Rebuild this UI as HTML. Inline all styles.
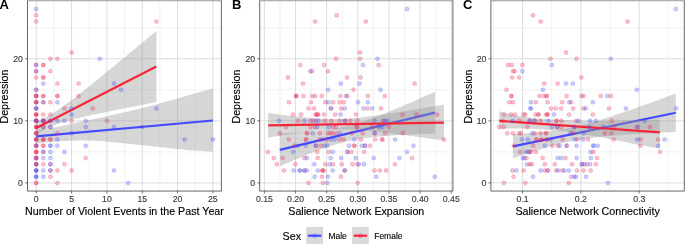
<!DOCTYPE html>
<html><head><meta charset="utf-8"><title>Figure</title>
<style>html,body{margin:0;padding:0;background:#fff;}svg{display:block;font-family:"Liberation Sans",sans-serif;}.t{font-size:8.7px;fill:#3c3c3c;stroke:#3c3c3c;stroke-width:0.15px;}.ax{font-size:10.7px;fill:#000;stroke:#000;stroke-width:0.15px;}.tag{font-size:13.0px;font-weight:bold;fill:#000;}circle.r{fill:#E8234C;stroke:#E8234C;fill-opacity:0.27;stroke-opacity:0.27;stroke-width:0.80}circle.b{fill:#3F48FA;stroke:#3F48FA;fill-opacity:0.27;stroke-opacity:0.27;stroke-width:0.80}.lg{font-size:8.5px;fill:#000;stroke:#000;stroke-width:0.12px;}</style></head><body>
<svg style="will-change:transform" width="685" height="244" viewBox="0 0 685 244">
<rect x="0" y="0" width="685" height="244" fill="#fff"/>
<clipPath id="clipA"><rect x="27.50" y="1.00" width="193.90" height="190.05"/></clipPath>
<g clip-path="url(#clipA)">
<path d="M53.91,1.00V191.05M89.24,1.00V191.05M124.56,1.00V191.05M159.89,1.00V191.05M195.21,1.00V191.05M27.50,151.87H221.40M27.50,89.80H221.40M27.50,27.73H221.40" stroke="#e4e4e4" stroke-width="0.5" fill="none"/>
<path d="M36.25,1.00V191.05M71.58,1.00V191.05M106.90,1.00V191.05M142.23,1.00V191.05M177.55,1.00V191.05M212.88,1.00V191.05M27.50,182.90H221.40M27.50,120.83H221.40M27.50,58.76H221.40" stroke="#d9d9d9" stroke-width="0.9" fill="none"/>
<path d="M36.2,129.8 L39.9,129.5 L43.6,129.0 L47.3,128.5 L51.0,128.0 L54.6,127.4 L58.3,126.8 L62.0,126.0 L65.7,125.2 L69.4,124.3 L73.0,123.4 L76.7,122.5 L80.4,121.7 L84.1,120.9 L87.8,120.2 L91.4,119.4 L95.1,118.7 L98.8,117.9 L102.5,117.2 L106.2,116.4 L109.8,115.6 L113.5,114.8 L117.2,114.0 L120.9,113.1 L124.6,112.3 L128.2,111.4 L131.9,110.5 L135.6,109.6 L139.3,108.7 L143.0,107.8 L146.6,106.9 L150.3,105.9 L154.0,105.0 L157.7,104.0 L161.4,103.0 L165.0,102.0 L168.7,101.0 L172.4,99.9 L176.1,98.9 L179.8,97.8 L183.4,96.7 L187.1,95.7 L190.8,94.7 L194.5,93.6 L198.2,92.6 L201.8,91.5 L205.5,90.5 L209.2,89.4 L212.9,88.4 L212.9,151.6 L209.2,151.4 L205.5,151.2 L201.8,150.9 L198.2,150.7 L194.5,150.4 L190.8,150.2 L187.1,149.9 L183.4,149.6 L179.8,149.2 L176.1,148.9 L172.4,148.5 L168.7,148.1 L165.0,147.6 L161.4,147.2 L157.7,146.8 L154.0,146.4 L150.3,146.0 L146.6,145.6 L143.0,145.2 L139.3,144.9 L135.6,144.5 L131.9,144.1 L128.2,143.7 L124.6,143.3 L120.9,143.0 L117.2,142.6 L113.5,142.3 L109.8,142.0 L106.2,141.6 L102.5,141.3 L98.8,141.0 L95.1,140.7 L91.4,140.5 L87.8,140.4 L84.1,140.4 L80.4,140.5 L76.7,140.5 L73.0,140.7 L69.4,140.8 L65.7,141.0 L62.0,141.1 L58.3,141.3 L54.6,141.5 L51.0,141.8 L47.3,142.1 L43.6,142.5 L39.9,143.0 L36.2,143.5Z" fill="#999999" fill-opacity="0.4"/>
<line x1="36.25" y1="136.35" x2="212.88" y2="120.52" stroke="#4549FF" stroke-width="2.2"/>
<path d="M36.2,121.2 L38.8,120.3 L41.3,119.3 L43.8,118.2 L46.3,117.0 L48.8,115.7 L51.3,114.2 L53.8,112.7 L56.3,111.1 L58.8,109.4 L61.3,107.7 L63.8,105.9 L66.3,104.1 L68.8,102.2 L71.3,100.3 L73.8,98.4 L76.3,96.4 L78.8,94.5 L81.3,92.5 L83.8,90.5 L86.3,88.5 L88.8,86.5 L91.3,84.5 L93.8,82.5 L96.3,80.4 L98.8,78.4 L101.3,76.4 L103.8,74.3 L106.3,72.3 L108.8,70.2 L111.3,68.2 L113.8,66.2 L116.3,64.1 L118.8,62.1 L121.3,60.0 L123.8,57.9 L126.3,55.9 L128.8,53.8 L131.3,51.8 L133.8,49.7 L136.3,47.7 L138.8,45.6 L141.3,43.5 L143.8,41.5 L146.3,39.4 L148.8,37.3 L151.4,35.3 L153.9,33.2 L156.4,31.1 L156.4,102.0 L153.9,102.5 L151.4,103.0 L148.8,103.4 L146.3,103.9 L143.8,104.4 L141.3,104.9 L138.8,105.4 L136.3,105.9 L133.8,106.4 L131.3,106.9 L128.8,107.4 L126.3,107.9 L123.8,108.4 L121.3,108.9 L118.8,109.4 L116.3,109.9 L113.8,110.5 L111.3,111.0 L108.8,111.5 L106.3,112.0 L103.8,112.5 L101.3,113.0 L98.8,113.6 L96.3,114.1 L93.8,114.6 L91.3,115.2 L88.8,115.7 L86.3,116.3 L83.8,116.8 L81.3,117.4 L78.8,118.0 L76.3,118.6 L73.8,119.2 L71.3,119.8 L68.8,120.5 L66.3,121.2 L63.8,121.9 L61.3,122.6 L58.8,123.5 L56.3,124.3 L53.8,125.3 L51.3,126.3 L48.8,127.5 L46.3,128.7 L43.8,130.1 L41.3,131.6 L38.8,133.1 L36.2,134.8Z" fill="#999999" fill-opacity="0.4"/>
<line x1="36.25" y1="127.97" x2="156.36" y2="66.56" stroke="#F6263A" stroke-width="2.2"/>
<circle class="b" cx="36.2" cy="9.1" r="2.00"/>
<circle class="r" cx="36.2" cy="15.3" r="2.00"/>
<circle class="r" cx="36.2" cy="21.5" r="2.00"/>
<circle class="r" cx="156.4" cy="21.5" r="2.00"/>
<circle class="r" cx="71.6" cy="52.6" r="2.00"/>
<circle class="r" cx="50.4" cy="58.8" r="2.00"/>
<circle class="r" cx="57.4" cy="58.8" r="2.00"/>
<circle class="b" cx="99.8" cy="58.8" r="2.00"/>
<circle class="r" cx="36.2" cy="65.0" r="2.00"/>
<circle class="b" cx="36.2" cy="65.0" r="2.00"/>
<circle class="r" cx="43.3" cy="65.0" r="2.00" style="fill-opacity:0.47;stroke-opacity:0.47"/>
<circle class="b" cx="36.2" cy="71.2" r="2.00"/>
<circle class="r" cx="36.2" cy="71.2" r="2.00"/>
<circle class="r" cx="50.4" cy="71.2" r="2.00"/>
<circle class="r" cx="36.2" cy="77.4" r="2.00"/>
<circle class="r" cx="43.3" cy="77.4" r="2.00" style="fill-opacity:0.47;stroke-opacity:0.47"/>
<circle class="b" cx="43.3" cy="83.6" r="2.00"/>
<circle class="r" cx="57.4" cy="83.6" r="2.00"/>
<circle class="r" cx="78.6" cy="83.6" r="2.00"/>
<circle class="b" cx="114.0" cy="83.6" r="2.00"/>
<circle class="r" cx="36.2" cy="89.8" r="2.00"/>
<circle class="b" cx="36.2" cy="89.8" r="2.00"/>
<circle class="b" cx="121.0" cy="89.8" r="2.00"/>
<circle class="b" cx="36.2" cy="96.0" r="2.00"/>
<circle class="r" cx="36.2" cy="96.0" r="2.00" style="fill-opacity:0.61;stroke-opacity:0.61"/>
<circle class="r" cx="43.3" cy="96.0" r="2.00" style="fill-opacity:0.47;stroke-opacity:0.47"/>
<circle class="r" cx="57.4" cy="96.0" r="2.00" style="fill-opacity:0.47;stroke-opacity:0.47"/>
<circle class="r" cx="78.6" cy="96.0" r="2.00"/>
<circle class="b" cx="36.2" cy="102.2" r="2.00"/>
<circle class="r" cx="36.2" cy="102.2" r="2.00" style="fill-opacity:0.61;stroke-opacity:0.61"/>
<circle class="r" cx="43.3" cy="102.2" r="2.00"/>
<circle class="b" cx="43.3" cy="102.2" r="2.00"/>
<circle class="r" cx="50.4" cy="102.2" r="2.00"/>
<circle class="b" cx="57.4" cy="102.2" r="2.00"/>
<circle class="r" cx="36.2" cy="108.4" r="2.00"/>
<circle class="b" cx="36.2" cy="108.4" r="2.00" style="fill-opacity:0.47;stroke-opacity:0.47"/>
<circle class="r" cx="64.5" cy="108.4" r="2.00"/>
<circle class="b" cx="71.6" cy="108.4" r="2.00"/>
<circle class="r" cx="92.8" cy="108.4" r="2.00"/>
<circle class="b" cx="156.4" cy="108.4" r="2.00"/>
<circle class="r" cx="36.2" cy="114.6" r="2.00" style="fill-opacity:0.72;stroke-opacity:0.72"/>
<circle class="r" cx="43.3" cy="114.6" r="2.00"/>
<circle class="r" cx="50.4" cy="114.6" r="2.00"/>
<circle class="b" cx="71.6" cy="114.6" r="2.00"/>
<circle class="b" cx="36.2" cy="120.8" r="2.00" style="fill-opacity:0.47;stroke-opacity:0.47"/>
<circle class="r" cx="36.2" cy="120.8" r="2.00"/>
<circle class="b" cx="36.2" cy="120.8" r="2.00"/>
<circle class="r" cx="36.2" cy="120.8" r="2.00"/>
<circle class="r" cx="43.3" cy="120.8" r="2.00"/>
<circle class="b" cx="43.3" cy="120.8" r="2.00" style="fill-opacity:0.47;stroke-opacity:0.47"/>
<circle class="r" cx="43.3" cy="120.8" r="2.00"/>
<circle class="r" cx="50.4" cy="120.8" r="2.00"/>
<circle class="b" cx="50.4" cy="120.8" r="2.00"/>
<circle class="b" cx="57.4" cy="120.8" r="2.00"/>
<circle class="b" cx="64.5" cy="120.8" r="2.00"/>
<circle class="r" cx="71.6" cy="120.8" r="2.00"/>
<circle class="b" cx="85.7" cy="120.8" r="2.00"/>
<circle class="r" cx="106.9" cy="120.8" r="2.00"/>
<circle class="r" cx="36.2" cy="127.0" r="2.00" style="fill-opacity:0.72;stroke-opacity:0.72"/>
<circle class="b" cx="43.3" cy="127.0" r="2.00"/>
<circle class="r" cx="43.3" cy="127.0" r="2.00"/>
<circle class="r" cx="50.4" cy="127.0" r="2.00"/>
<circle class="b" cx="50.4" cy="127.0" r="2.00"/>
<circle class="b" cx="85.7" cy="127.0" r="2.00"/>
<circle class="b" cx="114.0" cy="127.0" r="2.00"/>
<circle class="b" cx="142.2" cy="127.0" r="2.00"/>
<circle class="b" cx="36.2" cy="133.2" r="2.00"/>
<circle class="r" cx="36.2" cy="133.2" r="2.00" style="fill-opacity:0.61;stroke-opacity:0.61"/>
<circle class="r" cx="57.4" cy="133.2" r="2.00"/>
<circle class="b" cx="71.6" cy="133.2" r="2.00"/>
<circle class="b" cx="36.2" cy="139.5" r="2.00"/>
<circle class="r" cx="36.2" cy="139.5" r="2.00" style="fill-opacity:0.61;stroke-opacity:0.61"/>
<circle class="r" cx="43.3" cy="139.5" r="2.00" style="fill-opacity:0.61;stroke-opacity:0.61"/>
<circle class="r" cx="50.4" cy="139.5" r="2.00" style="fill-opacity:0.47;stroke-opacity:0.47"/>
<circle class="b" cx="57.4" cy="139.5" r="2.00"/>
<circle class="b" cx="184.6" cy="139.5" r="2.00"/>
<circle class="b" cx="212.9" cy="139.5" r="2.00"/>
<circle class="b" cx="36.2" cy="145.7" r="2.00" style="fill-opacity:0.47;stroke-opacity:0.47"/>
<circle class="r" cx="36.2" cy="145.7" r="2.00" style="fill-opacity:0.47;stroke-opacity:0.47"/>
<circle class="r" cx="43.3" cy="145.7" r="2.00" style="fill-opacity:0.47;stroke-opacity:0.47"/>
<circle class="b" cx="50.4" cy="145.7" r="2.00" style="fill-opacity:0.47;stroke-opacity:0.47"/>
<circle class="b" cx="57.4" cy="145.7" r="2.00"/>
<circle class="b" cx="85.7" cy="145.7" r="2.00"/>
<circle class="r" cx="36.2" cy="151.9" r="2.00" style="fill-opacity:0.72;stroke-opacity:0.72"/>
<circle class="r" cx="43.3" cy="151.9" r="2.00"/>
<circle class="b" cx="43.3" cy="151.9" r="2.00"/>
<circle class="b" cx="50.4" cy="151.9" r="2.00"/>
<circle class="b" cx="64.5" cy="151.9" r="2.00"/>
<circle class="b" cx="36.2" cy="158.1" r="2.00" style="fill-opacity:0.47;stroke-opacity:0.47"/>
<circle class="r" cx="36.2" cy="158.1" r="2.00" style="fill-opacity:0.47;stroke-opacity:0.47"/>
<circle class="b" cx="43.3" cy="158.1" r="2.00"/>
<circle class="b" cx="50.4" cy="158.1" r="2.00"/>
<circle class="r" cx="85.7" cy="158.1" r="2.00"/>
<circle class="b" cx="36.2" cy="164.3" r="2.00" style="fill-opacity:0.47;stroke-opacity:0.47"/>
<circle class="r" cx="36.2" cy="164.3" r="2.00" style="fill-opacity:0.47;stroke-opacity:0.47"/>
<circle class="r" cx="43.3" cy="164.3" r="2.00"/>
<circle class="r" cx="50.4" cy="164.3" r="2.00"/>
<circle class="b" cx="50.4" cy="164.3" r="2.00"/>
<circle class="r" cx="64.5" cy="164.3" r="2.00"/>
<circle class="r" cx="36.2" cy="170.5" r="2.00"/>
<circle class="b" cx="36.2" cy="170.5" r="2.00" style="fill-opacity:0.61;stroke-opacity:0.61"/>
<circle class="b" cx="43.3" cy="170.5" r="2.00"/>
<circle class="r" cx="50.4" cy="170.5" r="2.00"/>
<circle class="b" cx="50.4" cy="170.5" r="2.00"/>
<circle class="r" cx="57.4" cy="170.5" r="2.00"/>
<circle class="r" cx="71.6" cy="170.5" r="2.00"/>
<circle class="b" cx="114.0" cy="170.5" r="2.00"/>
<circle class="b" cx="36.2" cy="176.7" r="2.00" style="fill-opacity:0.61;stroke-opacity:0.61"/>
<circle class="b" cx="43.3" cy="176.7" r="2.00"/>
<circle class="r" cx="50.4" cy="176.7" r="2.00"/>
<circle class="r" cx="36.2" cy="182.9" r="2.00" style="fill-opacity:0.47;stroke-opacity:0.47"/>
<circle class="r" cx="57.4" cy="182.9" r="2.00"/>
<circle class="b" cx="128.1" cy="182.9" r="2.00"/>
</g>
<path d="M27.50,0V191.05H221.40V0" fill="none" stroke="#333333" stroke-width="0.75"/>
<rect x="27.10" y="0" width="194.70" height="1" fill="#b0b0b0"/><rect x="27.10" y="1" width="194.70" height="1" fill="#000" fill-opacity="0.09"/>
<path d="M36.25,191.05v2.4M71.58,191.05v2.4M106.90,191.05v2.4M142.23,191.05v2.4M177.55,191.05v2.4M212.88,191.05v2.4M27.50,182.90h-2.4M27.50,120.83h-2.4M27.50,58.76h-2.4" stroke="#333333" stroke-width="0.7" fill="none"/>
<text class="t" x="36.25" y="202.3" text-anchor="middle">0</text>
<text class="t" x="71.58" y="202.3" text-anchor="middle">5</text>
<text class="t" x="106.90" y="202.3" text-anchor="middle">10</text>
<text class="t" x="142.23" y="202.3" text-anchor="middle">15</text>
<text class="t" x="177.55" y="202.3" text-anchor="middle">20</text>
<text class="t" x="212.88" y="202.3" text-anchor="middle">25</text>
<text class="t" x="22.90" y="185.80" text-anchor="end">0</text>
<text class="t" x="22.90" y="123.73" text-anchor="end">10</text>
<text class="t" x="22.90" y="61.66" text-anchor="end">20</text>
<text class="ax" x="124.45" y="214.6" text-anchor="middle">Number of Violent Events in the Past Year</text>
<text class="ax" transform="translate(8.10,96.53) rotate(-90)" text-anchor="middle">Depression</text>
<text class="tag" x="-0.40" y="9.35">A</text>
<clipPath id="clipB"><rect x="259.70" y="1.00" width="193.20" height="190.05"/></clipPath>
<g clip-path="url(#clipB)">
<path d="M279.97,1.00V191.05M311.12,1.00V191.05M342.27,1.00V191.05M373.42,1.00V191.05M404.57,1.00V191.05M435.73,1.00V191.05M259.70,151.87H452.90M259.70,89.80H452.90M259.70,27.73H452.90" stroke="#e4e4e4" stroke-width="0.5" fill="none"/>
<path d="M264.40,1.00V191.05M295.55,1.00V191.05M326.70,1.00V191.05M357.85,1.00V191.05M389.00,1.00V191.05M420.15,1.00V191.05M451.30,1.00V191.05M259.70,182.90H452.90M259.70,120.83H452.90M259.70,58.76H452.90" stroke="#d9d9d9" stroke-width="0.9" fill="none"/>
<path d="M279.8,133.6 L283.0,133.5 L286.3,133.3 L289.5,133.1 L292.7,132.9 L296.0,132.7 L299.2,132.5 L302.4,132.3 L305.7,132.1 L308.9,131.8 L312.1,131.6 L315.4,131.3 L318.6,130.9 L321.8,130.6 L325.1,130.2 L328.3,129.8 L331.5,129.3 L334.8,128.8 L338.0,128.2 L341.2,127.5 L344.5,126.8 L347.7,126.0 L350.9,125.2 L354.1,124.3 L357.4,123.3 L360.6,122.3 L363.8,121.2 L367.1,120.1 L370.3,118.9 L373.5,117.7 L376.8,116.5 L380.0,115.3 L383.2,114.0 L386.5,112.7 L389.7,111.3 L392.9,110.0 L396.2,108.7 L399.4,107.3 L402.6,105.9 L405.9,104.5 L409.1,103.2 L412.3,101.8 L415.6,100.4 L418.8,98.9 L422.0,97.5 L425.3,96.1 L428.5,94.7 L431.7,93.3 L435.0,91.8 L435.0,133.5 L431.7,133.7 L428.5,133.8 L425.3,133.9 L422.0,134.0 L418.8,134.2 L415.6,134.3 L412.3,134.5 L409.1,134.6 L405.9,134.8 L402.6,135.0 L399.4,135.1 L396.2,135.3 L392.9,135.5 L389.7,135.7 L386.5,136.0 L383.2,136.2 L380.0,136.5 L376.8,136.8 L373.5,137.1 L370.3,137.5 L367.1,137.9 L363.8,138.3 L360.6,138.8 L357.4,139.3 L354.1,139.9 L350.9,140.5 L347.7,141.2 L344.5,142.0 L341.2,142.9 L338.0,143.8 L334.8,144.7 L331.5,145.8 L328.3,146.8 L325.1,147.9 L321.8,149.1 L318.6,150.3 L315.4,151.5 L312.1,152.8 L308.9,154.1 L305.7,155.4 L302.4,156.7 L299.2,158.0 L296.0,159.4 L292.7,160.7 L289.5,162.1 L286.3,163.5 L283.0,164.9 L279.8,166.3Z" fill="#999999" fill-opacity="0.4"/>
<line x1="279.79" y1="149.94" x2="434.98" y2="112.68" stroke="#4549FF" stroke-width="2.2"/>
<path d="M268.2,113.1 L271.9,113.5 L275.5,114.0 L279.2,114.5 L282.8,114.9 L286.5,115.4 L290.2,115.8 L293.8,116.2 L297.5,116.6 L301.1,117.0 L304.8,117.4 L308.5,117.7 L312.1,118.1 L315.8,118.4 L319.4,118.6 L323.1,118.8 L326.8,119.0 L330.4,119.1 L334.1,119.1 L337.7,119.1 L341.4,119.0 L345.1,118.8 L348.7,118.6 L352.4,118.3 L356.0,118.0 L359.7,117.6 L363.4,117.2 L367.0,116.7 L370.7,116.2 L374.3,115.8 L378.0,115.2 L381.7,114.7 L385.3,114.2 L389.0,113.6 L392.6,113.0 L396.3,112.5 L400.0,111.9 L403.6,111.3 L407.3,110.7 L410.9,110.1 L414.6,109.5 L418.3,108.9 L421.9,108.3 L425.6,107.7 L429.2,107.1 L432.9,106.5 L436.6,105.8 L440.2,105.2 L443.9,104.6 L443.9,140.5 L440.2,140.0 L436.6,139.5 L432.9,139.0 L429.2,138.5 L425.6,138.0 L421.9,137.5 L418.3,137.0 L414.6,136.5 L410.9,136.0 L407.3,135.6 L403.6,135.1 L400.0,134.6 L396.3,134.2 L392.6,133.7 L389.0,133.3 L385.3,132.8 L381.7,132.4 L378.0,132.0 L374.3,131.6 L370.7,131.2 L367.0,130.9 L363.4,130.5 L359.7,130.2 L356.0,130.0 L352.4,129.8 L348.7,129.6 L345.1,129.5 L341.4,129.4 L337.7,129.4 L334.1,129.5 L330.4,129.7 L326.8,129.9 L323.1,130.2 L319.4,130.5 L315.8,130.8 L312.1,131.3 L308.5,131.7 L304.8,132.2 L301.1,132.6 L297.5,133.2 L293.8,133.7 L290.2,134.2 L286.5,134.8 L282.8,135.3 L279.2,135.9 L275.5,136.5 L271.9,137.1 L268.2,137.7Z" fill="#999999" fill-opacity="0.4"/>
<line x1="268.20" y1="125.36" x2="443.89" y2="122.56" stroke="#F6263A" stroke-width="2.2"/>
<circle class="b" cx="407.0" cy="9.1" r="2.00"/>
<circle class="r" cx="336.7" cy="15.3" r="2.00"/>
<circle class="r" cx="315.2" cy="21.5" r="2.00"/>
<circle class="r" cx="365.8" cy="21.5" r="2.00"/>
<circle class="r" cx="360.1" cy="52.6" r="2.00"/>
<circle class="r" cx="336.0" cy="58.8" r="2.00"/>
<circle class="r" cx="360.1" cy="58.8" r="2.00"/>
<circle class="b" cx="377.4" cy="58.8" r="2.00"/>
<circle class="r" cx="300.4" cy="65.0" r="2.00"/>
<circle class="r" cx="324.2" cy="65.0" r="2.00"/>
<circle class="b" cx="363.0" cy="65.0" r="2.00"/>
<circle class="r" cx="378.7" cy="65.0" r="2.00"/>
<circle class="b" cx="310.3" cy="71.2" r="2.00"/>
<circle class="r" cx="312.1" cy="71.2" r="2.00"/>
<circle class="r" cx="328.0" cy="71.2" r="2.00"/>
<circle class="r" cx="287.9" cy="77.4" r="2.00"/>
<circle class="r" cx="347.0" cy="77.4" r="2.00"/>
<circle class="r" cx="360.6" cy="77.4" r="2.00"/>
<circle class="r" cx="303.0" cy="83.6" r="2.00"/>
<circle class="b" cx="340.7" cy="83.6" r="2.00"/>
<circle class="b" cx="359.6" cy="83.6" r="2.00"/>
<circle class="r" cx="414.6" cy="83.6" r="2.00"/>
<circle class="b" cx="328.2" cy="89.8" r="2.00"/>
<circle class="r" cx="353.5" cy="89.8" r="2.00"/>
<circle class="b" cx="380.5" cy="89.8" r="2.00"/>
<circle class="r" cx="296.2" cy="96.0" r="2.00" style="fill-opacity:0.61;stroke-opacity:0.61"/>
<circle class="r" cx="303.4" cy="96.0" r="2.00"/>
<circle class="r" cx="312.1" cy="96.0" r="2.00"/>
<circle class="r" cx="315.1" cy="96.0" r="2.00"/>
<circle class="r" cx="321.7" cy="96.0" r="2.00"/>
<circle class="r" cx="340.4" cy="96.0" r="2.00"/>
<circle class="b" cx="346.1" cy="96.0" r="2.00"/>
<circle class="r" cx="347.3" cy="96.0" r="2.00"/>
<circle class="r" cx="367.8" cy="96.0" r="2.00"/>
<circle class="r" cx="385.0" cy="96.0" r="2.00"/>
<circle class="r" cx="289.0" cy="102.2" r="2.00"/>
<circle class="r" cx="311.1" cy="102.2" r="2.00"/>
<circle class="r" cx="325.2" cy="102.2" r="2.00"/>
<circle class="b" cx="328.2" cy="102.2" r="2.00"/>
<circle class="r" cx="332.8" cy="102.2" r="2.00"/>
<circle class="r" cx="339.6" cy="102.2" r="2.00"/>
<circle class="r" cx="343.7" cy="102.2" r="2.00"/>
<circle class="b" cx="358.0" cy="102.2" r="2.00"/>
<circle class="b" cx="367.8" cy="102.2" r="2.00"/>
<circle class="r" cx="308.5" cy="108.4" r="2.00"/>
<circle class="r" cx="314.1" cy="108.4" r="2.00"/>
<circle class="r" cx="330.9" cy="108.4" r="2.00"/>
<circle class="b" cx="330.9" cy="108.4" r="2.00"/>
<circle class="r" cx="341.2" cy="108.4" r="2.00"/>
<circle class="b" cx="344.8" cy="108.4" r="2.00"/>
<circle class="b" cx="363.4" cy="108.4" r="2.00"/>
<circle class="r" cx="367.5" cy="108.4" r="2.00"/>
<circle class="b" cx="372.2" cy="108.4" r="2.00"/>
<circle class="r" cx="381.0" cy="108.4" r="2.00"/>
<circle class="r" cx="292.9" cy="114.6" r="2.00"/>
<circle class="r" cx="301.0" cy="114.6" r="2.00"/>
<circle class="r" cx="316.0" cy="114.6" r="2.00" style="fill-opacity:0.47;stroke-opacity:0.47"/>
<circle class="r" cx="318.0" cy="114.6" r="2.00" style="fill-opacity:0.47;stroke-opacity:0.47"/>
<circle class="r" cx="324.0" cy="114.6" r="2.00"/>
<circle class="r" cx="335.0" cy="114.6" r="2.00"/>
<circle class="b" cx="340.4" cy="114.6" r="2.00"/>
<circle class="r" cx="356.0" cy="114.6" r="2.00"/>
<circle class="r" cx="402.5" cy="114.6" r="2.00"/>
<circle class="r" cx="416.4" cy="114.6" r="2.00"/>
<circle class="r" cx="437.1" cy="114.6" r="2.00"/>
<circle class="b" cx="279.0" cy="120.8" r="2.00"/>
<circle class="r" cx="298.2" cy="120.8" r="2.00"/>
<circle class="b" cx="304.4" cy="120.8" r="2.00"/>
<circle class="r" cx="310.5" cy="120.8" r="2.00"/>
<circle class="b" cx="313.4" cy="120.8" r="2.00"/>
<circle class="r" cx="316.0" cy="120.8" r="2.00"/>
<circle class="b" cx="318.3" cy="120.8" r="2.00"/>
<circle class="r" cx="324.8" cy="120.8" r="2.00"/>
<circle class="r" cx="331.4" cy="120.8" r="2.00"/>
<circle class="r" cx="339.6" cy="120.8" r="2.00"/>
<circle class="r" cx="345.0" cy="120.8" r="2.00"/>
<circle class="b" cx="345.0" cy="120.8" r="2.00"/>
<circle class="r" cx="350.2" cy="120.8" r="2.00"/>
<circle class="r" cx="357.3" cy="120.8" r="2.00"/>
<circle class="b" cx="374.6" cy="120.8" r="2.00"/>
<circle class="r" cx="383.1" cy="120.8" r="2.00"/>
<circle class="b" cx="384.6" cy="120.8" r="2.00"/>
<circle class="b" cx="387.2" cy="120.8" r="2.00"/>
<circle class="r" cx="286.2" cy="127.0" r="2.00"/>
<circle class="r" cx="310.5" cy="127.0" r="2.00"/>
<circle class="r" cx="315.0" cy="127.0" r="2.00"/>
<circle class="b" cx="317.3" cy="127.0" r="2.00"/>
<circle class="b" cx="328.9" cy="127.0" r="2.00"/>
<circle class="r" cx="333.0" cy="127.0" r="2.00"/>
<circle class="r" cx="336.0" cy="127.0" r="2.00"/>
<circle class="r" cx="356.8" cy="127.0" r="2.00" style="fill-opacity:0.47;stroke-opacity:0.47"/>
<circle class="r" cx="372.4" cy="127.0" r="2.00"/>
<circle class="b" cx="379.0" cy="127.0" r="2.00"/>
<circle class="b" cx="382.3" cy="127.0" r="2.00"/>
<circle class="r" cx="388.9" cy="127.0" r="2.00"/>
<circle class="r" cx="279.8" cy="133.2" r="2.00"/>
<circle class="r" cx="306.9" cy="133.2" r="2.00" style="fill-opacity:0.47;stroke-opacity:0.47"/>
<circle class="b" cx="312.6" cy="133.2" r="2.00"/>
<circle class="r" cx="320.0" cy="133.2" r="2.00"/>
<circle class="r" cx="328.0" cy="133.2" r="2.00"/>
<circle class="r" cx="330.5" cy="133.2" r="2.00"/>
<circle class="r" cx="332.7" cy="133.2" r="2.00"/>
<circle class="r" cx="336.3" cy="133.2" r="2.00"/>
<circle class="b" cx="339.6" cy="133.2" r="2.00"/>
<circle class="r" cx="352.0" cy="133.2" r="2.00"/>
<circle class="r" cx="362.7" cy="133.2" r="2.00"/>
<circle class="r" cx="374.6" cy="133.2" r="2.00"/>
<circle class="b" cx="374.6" cy="133.2" r="2.00"/>
<circle class="r" cx="385.1" cy="133.2" r="2.00"/>
<circle class="r" cx="402.8" cy="133.2" r="2.00"/>
<circle class="r" cx="288.8" cy="139.5" r="2.00"/>
<circle class="r" cx="306.0" cy="139.5" r="2.00" style="fill-opacity:0.47;stroke-opacity:0.47"/>
<circle class="r" cx="319.9" cy="139.5" r="2.00"/>
<circle class="b" cx="322.4" cy="139.5" r="2.00"/>
<circle class="r" cx="326.5" cy="139.5" r="2.00"/>
<circle class="b" cx="330.6" cy="139.5" r="2.00"/>
<circle class="b" cx="334.7" cy="139.5" r="2.00"/>
<circle class="r" cx="339.6" cy="139.5" r="2.00"/>
<circle class="r" cx="343.7" cy="139.5" r="2.00"/>
<circle class="b" cx="354.3" cy="139.5" r="2.00"/>
<circle class="r" cx="360.9" cy="139.5" r="2.00"/>
<circle class="r" cx="375.2" cy="139.5" r="2.00"/>
<circle class="r" cx="382.3" cy="139.5" r="2.00" style="fill-opacity:0.47;stroke-opacity:0.47"/>
<circle class="b" cx="395.1" cy="139.5" r="2.00"/>
<circle class="r" cx="444.0" cy="139.5" r="2.00"/>
<circle class="r" cx="294.4" cy="145.7" r="2.00"/>
<circle class="b" cx="297.7" cy="145.7" r="2.00"/>
<circle class="b" cx="305.9" cy="145.7" r="2.00"/>
<circle class="r" cx="315.8" cy="145.7" r="2.00"/>
<circle class="b" cx="315.8" cy="145.7" r="2.00"/>
<circle class="r" cx="320.7" cy="145.7" r="2.00"/>
<circle class="b" cx="324.5" cy="145.7" r="2.00"/>
<circle class="b" cx="327.3" cy="145.7" r="2.00"/>
<circle class="b" cx="349.1" cy="145.7" r="2.00"/>
<circle class="r" cx="354.3" cy="145.7" r="2.00" style="fill-opacity:0.47;stroke-opacity:0.47"/>
<circle class="b" cx="361.7" cy="145.7" r="2.00"/>
<circle class="r" cx="365.0" cy="145.7" r="2.00"/>
<circle class="b" cx="365.0" cy="145.7" r="2.00"/>
<circle class="r" cx="369.9" cy="145.7" r="2.00"/>
<circle class="b" cx="413.4" cy="145.7" r="2.00"/>
<circle class="r" cx="267.8" cy="151.9" r="2.00"/>
<circle class="b" cx="293.2" cy="151.9" r="2.00"/>
<circle class="r" cx="317.3" cy="151.9" r="2.00"/>
<circle class="r" cx="328.9" cy="151.9" r="2.00"/>
<circle class="b" cx="332.7" cy="151.9" r="2.00"/>
<circle class="r" cx="347.5" cy="151.9" r="2.00"/>
<circle class="b" cx="347.5" cy="151.9" r="2.00"/>
<circle class="r" cx="351.4" cy="151.9" r="2.00"/>
<circle class="r" cx="364.2" cy="151.9" r="2.00"/>
<circle class="b" cx="406.9" cy="151.9" r="2.00"/>
<circle class="r" cx="273.9" cy="158.1" r="2.00"/>
<circle class="r" cx="282.6" cy="158.1" r="2.00"/>
<circle class="r" cx="304.4" cy="158.1" r="2.00"/>
<circle class="b" cx="306.9" cy="158.1" r="2.00"/>
<circle class="r" cx="317.6" cy="158.1" r="2.00"/>
<circle class="b" cx="330.6" cy="158.1" r="2.00"/>
<circle class="b" cx="341.2" cy="158.1" r="2.00"/>
<circle class="b" cx="355.6" cy="158.1" r="2.00"/>
<circle class="b" cx="373.7" cy="158.1" r="2.00"/>
<circle class="b" cx="399.5" cy="158.1" r="2.00"/>
<circle class="r" cx="412.1" cy="158.1" r="2.00"/>
<circle class="r" cx="276.9" cy="164.3" r="2.00"/>
<circle class="r" cx="295.4" cy="164.3" r="2.00"/>
<circle class="b" cx="314.3" cy="164.3" r="2.00"/>
<circle class="r" cx="325.2" cy="164.3" r="2.00"/>
<circle class="b" cx="329.8" cy="164.3" r="2.00"/>
<circle class="r" cx="333.0" cy="164.3" r="2.00"/>
<circle class="r" cx="341.7" cy="164.3" r="2.00"/>
<circle class="r" cx="352.4" cy="164.3" r="2.00"/>
<circle class="r" cx="357.3" cy="164.3" r="2.00"/>
<circle class="b" cx="358.9" cy="164.3" r="2.00"/>
<circle class="b" cx="363.9" cy="164.3" r="2.00"/>
<circle class="r" cx="394.9" cy="164.3" r="2.00"/>
<circle class="r" cx="283.9" cy="170.5" r="2.00"/>
<circle class="b" cx="293.7" cy="170.5" r="2.00"/>
<circle class="b" cx="299.8" cy="170.5" r="2.00" style="fill-opacity:0.47;stroke-opacity:0.47"/>
<circle class="r" cx="304.4" cy="170.5" r="2.00"/>
<circle class="b" cx="304.4" cy="170.5" r="2.00"/>
<circle class="b" cx="306.9" cy="170.5" r="2.00"/>
<circle class="b" cx="317.8" cy="170.5" r="2.00"/>
<circle class="r" cx="322.4" cy="170.5" r="2.00" style="fill-opacity:0.47;stroke-opacity:0.47"/>
<circle class="r" cx="324.0" cy="170.5" r="2.00"/>
<circle class="b" cx="332.7" cy="170.5" r="2.00"/>
<circle class="r" cx="344.8" cy="170.5" r="2.00"/>
<circle class="b" cx="344.8" cy="170.5" r="2.00"/>
<circle class="r" cx="374.5" cy="170.5" r="2.00"/>
<circle class="r" cx="379.8" cy="170.5" r="2.00"/>
<circle class="r" cx="386.1" cy="170.5" r="2.00"/>
<circle class="b" cx="314.6" cy="176.7" r="2.00"/>
<circle class="r" cx="321.9" cy="176.7" r="2.00"/>
<circle class="b" cx="327.8" cy="176.7" r="2.00"/>
<circle class="r" cx="340.9" cy="176.7" r="2.00"/>
<circle class="b" cx="376.2" cy="176.7" r="2.00"/>
<circle class="b" cx="434.8" cy="176.7" r="2.00"/>
<circle class="r" cx="308.5" cy="182.9" r="2.00"/>
<circle class="r" cx="322.9" cy="182.9" r="2.00"/>
<circle class="b" cx="327.3" cy="182.9" r="2.00"/>
<circle class="r" cx="357.6" cy="182.9" r="2.00"/>
</g>
<path d="M259.70,0V191.05H452.90V0" fill="none" stroke="#333333" stroke-width="0.75"/>
<rect x="259.30" y="0" width="194.00" height="1" fill="#b0b0b0"/><rect x="259.30" y="1" width="194.00" height="1" fill="#000" fill-opacity="0.09"/>
<path d="M264.40,191.05v2.4M295.55,191.05v2.4M326.70,191.05v2.4M357.85,191.05v2.4M389.00,191.05v2.4M420.15,191.05v2.4M451.30,191.05v2.4M259.70,182.90h-2.4M259.70,120.83h-2.4M259.70,58.76h-2.4" stroke="#333333" stroke-width="0.7" fill="none"/>
<text class="t" x="264.40" y="202.3" text-anchor="middle">0.15</text>
<text class="t" x="295.55" y="202.3" text-anchor="middle">0.20</text>
<text class="t" x="326.70" y="202.3" text-anchor="middle">0.25</text>
<text class="t" x="357.85" y="202.3" text-anchor="middle">0.30</text>
<text class="t" x="389.00" y="202.3" text-anchor="middle">0.35</text>
<text class="t" x="420.15" y="202.3" text-anchor="middle">0.40</text>
<text class="t" x="451.30" y="202.3" text-anchor="middle">0.45</text>
<text class="t" x="255.10" y="185.80" text-anchor="end">0</text>
<text class="t" x="255.10" y="123.73" text-anchor="end">10</text>
<text class="t" x="255.10" y="61.66" text-anchor="end">20</text>
<text class="ax" x="356.30" y="214.6" text-anchor="middle">Salience Network Expansion</text>
<text class="ax" transform="translate(240.30,96.53) rotate(-90)" text-anchor="middle">Depression</text>
<text class="tag" x="231.95" y="9.35">B</text>
<clipPath id="clipC"><rect x="490.90" y="1.00" width="193.40" height="190.05"/></clipPath>
<g clip-path="url(#clipC)">
<path d="M493.45,1.00V191.05M551.75,1.00V191.05M610.05,1.00V191.05M668.35,1.00V191.05M490.90,151.87H684.30M490.90,89.80H684.30M490.90,27.73H684.30" stroke="#e4e4e4" stroke-width="0.5" fill="none"/>
<path d="M522.60,1.00V191.05M580.90,1.00V191.05M639.20,1.00V191.05M490.90,182.90H684.30M490.90,120.83H684.30M490.90,58.76H684.30" stroke="#d9d9d9" stroke-width="0.9" fill="none"/>
<path d="M512.9,134.3 L516.3,134.1 L519.7,133.8 L523.1,133.6 L526.5,133.3 L529.9,133.1 L533.3,132.8 L536.7,132.5 L540.1,132.2 L543.5,131.8 L546.9,131.4 L550.3,131.0 L553.6,130.6 L557.0,130.1 L560.4,129.5 L563.8,129.0 L567.2,128.4 L570.6,127.7 L574.0,127.0 L577.4,126.2 L580.8,125.4 L584.2,124.5 L587.6,123.6 L591.0,122.7 L594.4,121.7 L597.8,120.7 L601.2,119.6 L604.5,118.6 L607.9,117.5 L611.3,116.4 L614.7,115.2 L618.1,114.1 L621.5,113.0 L624.9,111.8 L628.3,110.6 L631.7,109.4 L635.1,108.2 L638.5,107.0 L641.9,105.8 L645.3,104.6 L648.7,103.4 L652.1,102.2 L655.5,100.9 L658.8,99.7 L662.2,98.5 L665.6,97.2 L669.0,96.0 L672.4,94.8 L675.8,93.5 L675.8,132.0 L672.4,132.2 L669.0,132.3 L665.6,132.5 L662.2,132.6 L658.8,132.8 L655.5,133.0 L652.1,133.2 L648.7,133.3 L645.3,133.5 L641.9,133.7 L638.5,133.9 L635.1,134.1 L631.7,134.3 L628.3,134.5 L624.9,134.8 L621.5,135.0 L618.1,135.2 L614.7,135.5 L611.3,135.8 L607.9,136.1 L604.5,136.4 L601.2,136.7 L597.8,137.1 L594.4,137.5 L591.0,137.9 L587.6,138.3 L584.2,138.8 L580.8,139.4 L577.4,140.0 L574.0,140.6 L570.6,141.3 L567.2,142.0 L563.8,142.8 L560.4,143.6 L557.0,144.5 L553.6,145.4 L550.3,146.4 L546.9,147.4 L543.5,148.4 L540.1,149.4 L536.7,150.5 L533.3,151.6 L529.9,152.7 L526.5,153.9 L523.1,155.0 L519.7,156.2 L516.3,157.3 L512.9,158.5Z" fill="#999999" fill-opacity="0.4"/>
<line x1="512.92" y1="146.40" x2="675.81" y2="112.76" stroke="#4549FF" stroke-width="2.2"/>
<path d="M499.2,111.2 L502.5,112.2 L505.9,113.1 L509.2,114.0 L512.5,114.7 L515.9,115.5 L519.2,116.1 L522.6,116.6 L525.9,117.1 L529.3,117.5 L532.6,117.8 L536.0,118.2 L539.3,118.5 L542.7,118.7 L546.0,119.0 L549.4,119.2 L552.7,119.4 L556.0,119.6 L559.4,119.8 L562.7,120.0 L566.1,120.1 L569.4,120.2 L572.8,120.3 L576.1,120.4 L579.5,120.6 L582.8,120.7 L586.2,120.8 L589.5,120.8 L592.9,120.9 L596.2,120.9 L599.5,121.0 L602.9,120.9 L606.2,120.9 L609.6,120.9 L612.9,120.8 L616.3,120.8 L619.6,120.7 L623.0,120.6 L626.3,120.5 L629.7,120.5 L633.0,120.4 L636.4,120.3 L639.7,120.2 L643.0,120.1 L646.4,120.0 L649.7,119.9 L653.1,119.7 L656.4,119.6 L659.8,119.5 L659.8,148.8 L656.4,148.1 L653.1,147.5 L649.7,146.9 L646.4,146.3 L643.0,145.6 L639.7,145.0 L636.4,144.3 L633.0,143.7 L629.7,143.0 L626.3,142.3 L623.0,141.6 L619.6,140.9 L616.3,140.2 L612.9,139.6 L609.6,138.9 L606.2,138.3 L602.9,137.6 L599.5,137.0 L596.2,136.4 L592.9,135.9 L589.5,135.3 L586.2,134.8 L582.8,134.2 L579.5,133.6 L576.1,133.0 L572.8,132.5 L569.4,132.0 L566.1,131.6 L562.7,131.3 L559.4,130.9 L556.0,130.6 L552.7,130.3 L549.4,130.0 L546.0,129.8 L542.7,129.5 L539.3,129.3 L536.0,129.0 L532.6,128.8 L529.3,128.6 L525.9,128.4 L522.6,128.4 L519.2,128.4 L515.9,128.4 L512.5,128.4 L509.2,128.5 L505.9,128.6 L502.5,128.7 L499.2,128.9Z" fill="#999999" fill-opacity="0.4"/>
<line x1="499.16" y1="120.83" x2="659.78" y2="132.29" stroke="#F6263A" stroke-width="2.2"/>
<circle class="b" cx="675.8" cy="9.1" r="2.00"/>
<circle class="r" cx="533.0" cy="15.3" r="2.00"/>
<circle class="r" cx="540.6" cy="21.5" r="2.00"/>
<circle class="r" cx="627.6" cy="21.5" r="2.00"/>
<circle class="r" cx="566.0" cy="52.6" r="2.00"/>
<circle class="r" cx="550.4" cy="58.8" r="2.00"/>
<circle class="r" cx="576.5" cy="58.8" r="2.00"/>
<circle class="b" cx="610.8" cy="58.8" r="2.00"/>
<circle class="r" cx="508.0" cy="65.0" r="2.00"/>
<circle class="r" cx="511.8" cy="65.0" r="2.00"/>
<circle class="r" cx="522.3" cy="65.0" r="2.00"/>
<circle class="b" cx="551.9" cy="65.0" r="2.00"/>
<circle class="r" cx="513.1" cy="71.2" r="2.00"/>
<circle class="r" cx="514.7" cy="71.2" r="2.00"/>
<circle class="b" cx="522.4" cy="71.2" r="2.00"/>
<circle class="r" cx="512.1" cy="77.4" r="2.00"/>
<circle class="r" cx="519.1" cy="77.4" r="2.00"/>
<circle class="r" cx="581.4" cy="77.4" r="2.00"/>
<circle class="r" cx="544.2" cy="83.6" r="2.00"/>
<circle class="r" cx="557.6" cy="83.6" r="2.00"/>
<circle class="b" cx="566.0" cy="83.6" r="2.00"/>
<circle class="b" cx="572.9" cy="83.6" r="2.00"/>
<circle class="r" cx="506.5" cy="89.8" r="2.00"/>
<circle class="b" cx="542.9" cy="89.8" r="2.00"/>
<circle class="b" cx="636.8" cy="89.8" r="2.00"/>
<circle class="r" cx="511.4" cy="96.0" r="2.00" style="fill-opacity:0.47;stroke-opacity:0.47"/>
<circle class="r" cx="539.3" cy="96.0" r="2.00"/>
<circle class="r" cx="543.7" cy="96.0" r="2.00"/>
<circle class="r" cx="546.7" cy="96.0" r="2.00" style="fill-opacity:0.47;stroke-opacity:0.47"/>
<circle class="r" cx="566.6" cy="96.0" r="2.00"/>
<circle class="r" cx="581.4" cy="96.0" r="2.00"/>
<circle class="r" cx="583.5" cy="96.0" r="2.00"/>
<circle class="r" cx="600.7" cy="96.0" r="2.00"/>
<circle class="b" cx="607.2" cy="96.0" r="2.00"/>
<circle class="r" cx="611.0" cy="96.0" r="2.00"/>
<circle class="r" cx="509.3" cy="102.2" r="2.00"/>
<circle class="r" cx="512.9" cy="102.2" r="2.00"/>
<circle class="b" cx="531.0" cy="102.2" r="2.00"/>
<circle class="r" cx="535.9" cy="102.2" r="2.00"/>
<circle class="r" cx="547.6" cy="102.2" r="2.00"/>
<circle class="r" cx="562.2" cy="102.2" r="2.00"/>
<circle class="b" cx="569.3" cy="102.2" r="2.00"/>
<circle class="r" cx="571.2" cy="102.2" r="2.00"/>
<circle class="b" cx="592.9" cy="102.2" r="2.00"/>
<circle class="b" cx="530.6" cy="108.4" r="2.00" style="fill-opacity:0.47;stroke-opacity:0.47"/>
<circle class="r" cx="551.1" cy="108.4" r="2.00"/>
<circle class="r" cx="555.7" cy="108.4" r="2.00"/>
<circle class="r" cx="561.1" cy="108.4" r="2.00"/>
<circle class="r" cx="573.2" cy="108.4" r="2.00"/>
<circle class="r" cx="583.5" cy="108.4" r="2.00"/>
<circle class="b" cx="585.7" cy="108.4" r="2.00"/>
<circle class="r" cx="609.0" cy="108.4" r="2.00"/>
<circle class="b" cx="625.9" cy="108.4" r="2.00"/>
<circle class="b" cx="676.1" cy="108.4" r="2.00"/>
<circle class="r" cx="503.9" cy="114.6" r="2.00"/>
<circle class="r" cx="511.0" cy="114.6" r="2.00"/>
<circle class="r" cx="515.0" cy="114.6" r="2.00"/>
<circle class="r" cx="523.6" cy="114.6" r="2.00"/>
<circle class="r" cx="525.2" cy="114.6" r="2.00"/>
<circle class="r" cx="535.5" cy="114.6" r="2.00"/>
<circle class="r" cx="538.5" cy="114.6" r="2.00" style="fill-opacity:0.47;stroke-opacity:0.47"/>
<circle class="r" cx="546.0" cy="114.6" r="2.00"/>
<circle class="r" cx="547.5" cy="114.6" r="2.00" style="fill-opacity:0.47;stroke-opacity:0.47"/>
<circle class="b" cx="554.0" cy="114.6" r="2.00"/>
<circle class="r" cx="569.1" cy="114.6" r="2.00"/>
<circle class="r" cx="592.9" cy="114.6" r="2.00"/>
<circle class="r" cx="502.8" cy="120.8" r="2.00"/>
<circle class="b" cx="512.6" cy="120.8" r="2.00"/>
<circle class="r" cx="519.1" cy="120.8" r="2.00"/>
<circle class="r" cx="529.8" cy="120.8" r="2.00"/>
<circle class="b" cx="529.8" cy="120.8" r="2.00"/>
<circle class="r" cx="534.7" cy="120.8" r="2.00"/>
<circle class="b" cx="534.7" cy="120.8" r="2.00"/>
<circle class="r" cx="540.5" cy="120.8" r="2.00"/>
<circle class="b" cx="548.3" cy="120.8" r="2.00"/>
<circle class="r" cx="556.5" cy="120.8" r="2.00" style="fill-opacity:0.47;stroke-opacity:0.47"/>
<circle class="r" cx="561.4" cy="120.8" r="2.00"/>
<circle class="r" cx="576.1" cy="120.8" r="2.00"/>
<circle class="b" cx="578.6" cy="120.8" r="2.00"/>
<circle class="b" cx="590.1" cy="120.8" r="2.00"/>
<circle class="b" cx="595.8" cy="120.8" r="2.00"/>
<circle class="r" cx="611.8" cy="120.8" r="2.00"/>
<circle class="b" cx="644.5" cy="120.8" r="2.00"/>
<circle class="r" cx="499.1" cy="127.0" r="2.00"/>
<circle class="r" cx="503.6" cy="127.0" r="2.00"/>
<circle class="r" cx="527.3" cy="127.0" r="2.00"/>
<circle class="b" cx="551.9" cy="127.0" r="2.00"/>
<circle class="r" cx="557.3" cy="127.0" r="2.00"/>
<circle class="b" cx="557.3" cy="127.0" r="2.00"/>
<circle class="r" cx="561.4" cy="127.0" r="2.00"/>
<circle class="r" cx="574.2" cy="127.0" r="2.00"/>
<circle class="b" cx="574.2" cy="127.0" r="2.00"/>
<circle class="b" cx="589.3" cy="127.0" r="2.00"/>
<circle class="b" cx="603.1" cy="127.0" r="2.00"/>
<circle class="r" cx="614.4" cy="127.0" r="2.00"/>
<circle class="r" cx="636.6" cy="127.0" r="2.00"/>
<circle class="b" cx="638.0" cy="127.0" r="2.00"/>
<circle class="r" cx="650.1" cy="127.0" r="2.00"/>
<circle class="r" cx="507.3" cy="133.2" r="2.00"/>
<circle class="r" cx="512.9" cy="133.2" r="2.00"/>
<circle class="r" cx="519.2" cy="133.2" r="2.00"/>
<circle class="r" cx="520.8" cy="133.2" r="2.00"/>
<circle class="b" cx="532.3" cy="133.2" r="2.00"/>
<circle class="r" cx="534.7" cy="133.2" r="2.00"/>
<circle class="r" cx="540.5" cy="133.2" r="2.00"/>
<circle class="r" cx="546.0" cy="133.2" r="2.00" style="fill-opacity:0.47;stroke-opacity:0.47"/>
<circle class="b" cx="570.4" cy="133.2" r="2.00"/>
<circle class="r" cx="572.9" cy="133.2" r="2.00"/>
<circle class="b" cx="583.5" cy="133.2" r="2.00"/>
<circle class="r" cx="604.9" cy="133.2" r="2.00"/>
<circle class="r" cx="611.3" cy="133.2" r="2.00"/>
<circle class="b" cx="521.9" cy="139.5" r="2.00"/>
<circle class="b" cx="527.8" cy="139.5" r="2.00"/>
<circle class="r" cx="536.4" cy="139.5" r="2.00" style="fill-opacity:0.47;stroke-opacity:0.47"/>
<circle class="r" cx="541.3" cy="139.5" r="2.00" style="fill-opacity:0.47;stroke-opacity:0.47"/>
<circle class="r" cx="546.8" cy="139.5" r="2.00" style="fill-opacity:0.47;stroke-opacity:0.47"/>
<circle class="b" cx="550.7" cy="139.5" r="2.00"/>
<circle class="r" cx="562.7" cy="139.5" r="2.00"/>
<circle class="b" cx="574.8" cy="139.5" r="2.00"/>
<circle class="r" cx="577.5" cy="139.5" r="2.00"/>
<circle class="b" cx="583.0" cy="139.5" r="2.00"/>
<circle class="r" cx="588.0" cy="139.5" r="2.00"/>
<circle class="r" cx="613.7" cy="139.5" r="2.00"/>
<circle class="b" cx="637.2" cy="139.5" r="2.00"/>
<circle class="r" cx="640.6" cy="139.5" r="2.00"/>
<circle class="r" cx="658.0" cy="139.5" r="2.00"/>
<circle class="b" cx="664.7" cy="139.5" r="2.00"/>
<circle class="r" cx="513.9" cy="145.7" r="2.00"/>
<circle class="r" cx="533.1" cy="145.7" r="2.00"/>
<circle class="b" cx="544.8" cy="145.7" r="2.00"/>
<circle class="r" cx="552.4" cy="145.7" r="2.00"/>
<circle class="r" cx="557.8" cy="145.7" r="2.00"/>
<circle class="b" cx="559.8" cy="145.7" r="2.00"/>
<circle class="r" cx="566.6" cy="145.7" r="2.00"/>
<circle class="b" cx="566.6" cy="145.7" r="2.00"/>
<circle class="b" cx="576.5" cy="145.7" r="2.00"/>
<circle class="b" cx="593.4" cy="145.7" r="2.00" style="fill-opacity:0.47;stroke-opacity:0.47"/>
<circle class="b" cx="597.8" cy="145.7" r="2.00"/>
<circle class="r" cx="640.3" cy="145.7" r="2.00"/>
<circle class="b" cx="658.1" cy="145.7" r="2.00"/>
<circle class="r" cx="520.0" cy="151.9" r="2.00"/>
<circle class="b" cx="526.0" cy="151.9" r="2.00"/>
<circle class="r" cx="529.0" cy="151.9" r="2.00"/>
<circle class="b" cx="529.0" cy="151.9" r="2.00"/>
<circle class="r" cx="531.0" cy="151.9" r="2.00"/>
<circle class="r" cx="535.9" cy="151.9" r="2.00"/>
<circle class="b" cx="590.6" cy="151.9" r="2.00"/>
<circle class="r" cx="593.4" cy="151.9" r="2.00"/>
<circle class="r" cx="660.1" cy="151.9" r="2.00"/>
<circle class="b" cx="522.8" cy="158.1" r="2.00"/>
<circle class="b" cx="524.4" cy="158.1" r="2.00"/>
<circle class="r" cx="526.5" cy="158.1" r="2.00"/>
<circle class="r" cx="542.6" cy="158.1" r="2.00"/>
<circle class="b" cx="557.8" cy="158.1" r="2.00"/>
<circle class="b" cx="561.4" cy="158.1" r="2.00"/>
<circle class="r" cx="565.5" cy="158.1" r="2.00"/>
<circle class="b" cx="576.6" cy="158.1" r="2.00"/>
<circle class="b" cx="590.9" cy="158.1" r="2.00"/>
<circle class="r" cx="597.0" cy="158.1" r="2.00"/>
<circle class="b" cx="527.0" cy="164.3" r="2.00"/>
<circle class="r" cx="529.8" cy="164.3" r="2.00"/>
<circle class="r" cx="531.9" cy="164.3" r="2.00"/>
<circle class="r" cx="544.9" cy="164.3" r="2.00"/>
<circle class="r" cx="554.8" cy="164.3" r="2.00"/>
<circle class="r" cx="572.0" cy="164.3" r="2.00"/>
<circle class="r" cx="581.9" cy="164.3" r="2.00"/>
<circle class="b" cx="581.9" cy="164.3" r="2.00"/>
<circle class="b" cx="584.3" cy="164.3" r="2.00"/>
<circle class="r" cx="586.8" cy="164.3" r="2.00"/>
<circle class="b" cx="590.1" cy="164.3" r="2.00"/>
<circle class="r" cx="595.8" cy="164.3" r="2.00"/>
<circle class="r" cx="512.6" cy="170.5" r="2.00"/>
<circle class="b" cx="516.4" cy="170.5" r="2.00"/>
<circle class="r" cx="523.6" cy="170.5" r="2.00"/>
<circle class="b" cx="540.5" cy="170.5" r="2.00"/>
<circle class="r" cx="544.8" cy="170.5" r="2.00"/>
<circle class="b" cx="547.5" cy="170.5" r="2.00"/>
<circle class="r" cx="548.0" cy="170.5" r="2.00"/>
<circle class="r" cx="556.1" cy="170.5" r="2.00"/>
<circle class="b" cx="558.1" cy="170.5" r="2.00"/>
<circle class="r" cx="562.2" cy="170.5" r="2.00"/>
<circle class="b" cx="564.3" cy="170.5" r="2.00"/>
<circle class="b" cx="568.8" cy="170.5" r="2.00"/>
<circle class="r" cx="577.0" cy="170.5" r="2.00"/>
<circle class="r" cx="583.5" cy="170.5" r="2.00"/>
<circle class="r" cx="590.6" cy="170.5" r="2.00"/>
<circle class="r" cx="513.5" cy="176.7" r="2.00"/>
<circle class="b" cx="533.1" cy="176.7" r="2.00"/>
<circle class="r" cx="571.2" cy="176.7" r="2.00"/>
<circle class="b" cx="574.2" cy="176.7" r="2.00"/>
<circle class="b" cx="575.9" cy="176.7" r="2.00"/>
<circle class="b" cx="586.0" cy="176.7" r="2.00"/>
<circle class="r" cx="503.9" cy="182.9" r="2.00"/>
<circle class="r" cx="525.4" cy="182.9" r="2.00"/>
<circle class="r" cx="568.8" cy="182.9" r="2.00"/>
<circle class="b" cx="607.9" cy="182.9" r="2.00"/>
</g>
<path d="M490.90,0V191.05H684.30V0" fill="none" stroke="#333333" stroke-width="0.75"/>
<rect x="490.50" y="0" width="194.20" height="1" fill="#b0b0b0"/><rect x="490.50" y="1" width="194.20" height="1" fill="#000" fill-opacity="0.09"/>
<path d="M522.60,191.05v2.4M580.90,191.05v2.4M639.20,191.05v2.4M490.90,182.90h-2.4M490.90,120.83h-2.4M490.90,58.76h-2.4" stroke="#333333" stroke-width="0.7" fill="none"/>
<text class="t" x="522.60" y="202.3" text-anchor="middle">0.1</text>
<text class="t" x="580.90" y="202.3" text-anchor="middle">0.2</text>
<text class="t" x="639.20" y="202.3" text-anchor="middle">0.3</text>
<text class="t" x="486.30" y="185.80" text-anchor="end">0</text>
<text class="t" x="486.30" y="123.73" text-anchor="end">10</text>
<text class="t" x="486.30" y="61.66" text-anchor="end">20</text>
<text class="ax" x="587.60" y="214.6" text-anchor="middle">Salience Network Connectivity</text>
<text class="ax" transform="translate(471.50,96.53) rotate(-90)" text-anchor="middle">Depression</text>
<text class="tag" x="463.05" y="9.35">C</text>
<text class="ax" x="282.6" y="240.0">Sex</text>
<rect x="306.30" y="226.9" width="16.7" height="17.5" fill="#d9d9d9"/>
<line x1="307.90" y1="235.7" x2="321.40" y2="235.7" stroke="#4549FF" stroke-width="2.2"/>
<circle class="b" cx="314.65" cy="235.7" r="2.00"/>
<text class="lg" x="328.40" y="238.8">Male</text>
<rect x="352.10" y="226.9" width="16.7" height="17.5" fill="#d9d9d9"/>
<line x1="353.70" y1="235.7" x2="367.20" y2="235.7" stroke="#F6263A" stroke-width="2.2"/>
<circle class="r" cx="360.45" cy="235.7" r="2.00"/>
<text class="lg" x="374.20" y="238.8">Female</text>
</svg></body></html>
